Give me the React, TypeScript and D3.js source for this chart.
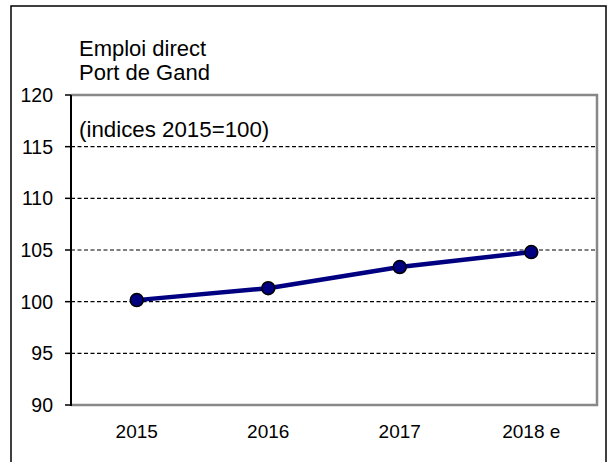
import React from "react";
import * as d3 from "d3";

const categories = ["2015", "2016", "2017", "2018 e"];
const values = [100.15, 101.3, 103.35, 104.8];
const yTicks = [90, 95, 100, 105, 110, 115, 120];
const titleLines = ["Emploi direct", "Port de Gand"];
const subtitle = "(indices 2015=100)";

export default function App() {
  const W = 615, H = 462;
  const left = 71, right = 597, top = 95, bottom = 405;
  const x = d3.scaleBand<string>().domain(categories).range([left, right]);
  const y = d3.scaleLinear().domain([90, 120]).range([bottom, top]);
  const line = d3
    .line<number>()
    .x((_, i) => (x(categories[i]) as number) + x.bandwidth() / 2)
    .y((d) => y(d));
  const font = "Arial, 'Liberation Sans', sans-serif";
  return (
    <svg width={W} height={H} style={{ position: "absolute", left: 0, top: 0 }} fontFamily={font}>
      <rect x={0} y={0} width={W} height={H} fill="#fff" />
      <rect x={11} y={6} width={595} height={470} fill="none" stroke="#000" strokeWidth={1.5} />
      {yTicks.filter((t) => t > 90 && t < 120).map((t) => (
        <line key={t} x1={left} x2={right} y1={y(t)} y2={y(t)} stroke="#000" strokeWidth={1.2} strokeDasharray="4,2.5" />
      ))}
      <polyline
        points={`${left},${top} ${right},${top} ${right},${bottom} ${left},${bottom}`}
        fill="none"
        stroke="#888"
        strokeWidth={2.5}
      />
      <line x1={left} x2={left} y1={top} y2={bottom + 1} stroke="#000" strokeWidth={2} />
      {yTicks.map((t) => (
        <g key={t}>
          <line x1={left - 6} x2={left} y1={y(t)} y2={y(t)} stroke="#000" strokeWidth={1.5} />
          <text x={53} y={y(t) + 7} textAnchor="end" fontSize={19.5} fill="#000">
            {t}
          </text>
        </g>
      ))}
      {categories.map((c) => (
        <text key={c} x={(x(c) as number) + x.bandwidth() / 2} y={438} textAnchor="middle" fontSize={19} fill="#000">
          {c}
        </text>
      ))}
      <path d={line(values) || ""} fill="none" stroke="#000080" strokeWidth={4.5} />
      {values.map((v, i) => (
        <circle
          key={i}
          cx={(x(categories[i]) as number) + x.bandwidth() / 2}
          cy={y(v)}
          r={6.5}
          fill="#000080"
          stroke="#000"
          strokeWidth={1.5}
        />
      ))}
      {titleLines.map((t, i) => (
        <text key={t} x={79} y={56 + i * 24} fontSize={22} fill="#000">
          {t}
        </text>
      ))}
      <text x={79} y={137} fontSize={22.3} fill="#000">
        {subtitle}
      </text>
    </svg>
  );
}
